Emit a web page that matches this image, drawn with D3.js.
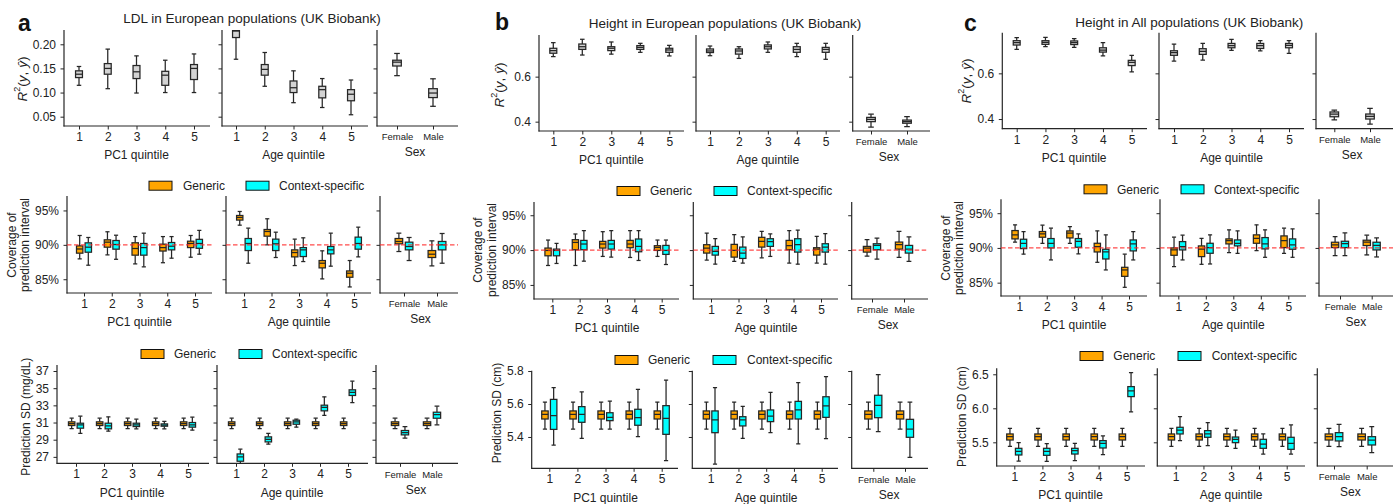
<!DOCTYPE html>
<html>
<head>
<meta charset="utf-8">
<script src="https://cdn.jsdelivr.net/npm/d3@7"></script>
<style>
  body { margin: 0; background: #fff; }
  svg { display: block; }
</style>
</head>
<body>
<svg id="fig" width="1393" height="504"></svg>
<script>
// ---------------------------------------------------------------
// Data. Every box is [lower whisker, Q1, median, Q3, upper whisker]
// ---------------------------------------------------------------
const quintiles = ["1", "2", "3", "4", "5"];
const sexes = ["Female", "Male"];
const seriesNames = ["Generic", "Context-specific"];

const r2TicksLdl = [0.05, 0.10, 0.15, 0.20];
const r2TicksHeight = [0.4, 0.6];
const coverageTicks = [85, 90, 95];
const sdTicksLdl = [27, 29, 31, 33, 35, 37];
const sdTicksHeightEur = [5.4, 5.6, 5.8];
const sdTicksHeightAll = [5.5, 6.0, 6.5];
const nominalCoverage = 90;

// LDL, European (a)
const ldlR2Pc1 = [
  [0.115, 0.131, 0.138, 0.145, 0.154],
  [0.108, 0.138, 0.150, 0.160, 0.190],
  [0.099, 0.129, 0.143, 0.156, 0.176],
  [0.100, 0.115, 0.136, 0.144, 0.167],
  [0.100, 0.127, 0.150, 0.158, 0.180]];
const ldlR2Age = [
  [0.169, 0.214, 0.2275, 0.2285, 0.250],
  [0.113, 0.136, 0.148, 0.158, 0.183],
  [0.079, 0.100, 0.110, 0.124, 0.145],
  [0.069, 0.089, 0.106, 0.113, 0.129],
  [0.054, 0.083, 0.0965, 0.106, 0.126]];
const ldlR2Sex = [
  [0.135, 0.155, 0.163, 0.167, 0.181],
  [0.0715, 0.0896, 0.099, 0.108, 0.1285]];

const ldlCovPc1Gen = [
  [87.96, 88.79, 89.40, 89.85, 91.36],
  [88.54, 89.66, 90.39, 90.73, 91.90],
  [87.23, 88.50, 89.47, 90.30, 91.20],
  [87.40, 89.10, 89.60, 90.10, 91.20],
  [88.20, 89.60, 90.20, 90.53, 91.36]];
const ldlCovPc1Ctx = [
  [87.04, 88.93, 89.66, 90.29, 91.07],
  [87.90, 89.37, 90.05, 90.63, 91.40],
  [86.80, 88.50, 89.60, 90.20, 91.70],
  [88.06, 89.27, 89.80, 90.34, 91.20],
  [88.64, 89.50, 90.20, 90.80, 92.10]];
const ldlCovAgeGen = [
  [92.86, 93.60, 93.98, 94.27, 94.85],
  [90.00, 91.26, 91.94, 92.23, 93.79],
  [86.99, 88.25, 88.88, 89.27, 90.83],
  [85.05, 86.65, 87.33, 87.72, 89.13],
  [83.88, 85.29, 85.87, 86.21, 87.72]];
const ldlCovAgeCtx = [
  [87.33, 89.17, 90.20, 90.92, 92.43],
  [88.16, 89.17, 90.15, 90.83, 91.84],
  [87.57, 88.30, 89.27, 89.60, 91.02],
  [86.90, 88.69, 89.27, 89.76, 91.70],
  [88.25, 89.37, 90.20, 91.12, 92.57]];
const ldlCovSexGen = [
  [89.03, 90.15, 90.49, 90.92, 91.70],
  [86.94, 88.16, 88.64, 89.17, 90.58]];
const ldlCovSexCtx = [
  [87.72, 89.27, 89.76, 90.39, 91.07],
  [87.33, 89.27, 90.00, 90.49, 91.65]];

const ldlSdPc1Gen = [
  [30.30, 30.65, 30.88, 31.08, 31.50],
  [30.30, 30.65, 30.88, 31.08, 31.50],
  [30.30, 30.65, 30.88, 31.08, 31.50],
  [30.30, 30.65, 30.88, 31.08, 31.50],
  [30.30, 30.65, 30.88, 31.08, 31.50]];
const ldlSdPc1Ctx = [
  [29.75, 30.34, 30.73, 30.92, 31.74],
  [29.99, 30.26, 30.60, 30.92, 31.66],
  [30.26, 30.53, 30.73, 30.92, 31.39],
  [30.26, 30.57, 30.69, 30.84, 31.12],
  [30.10, 30.46, 30.73, 31.00, 31.62]];
const ldlSdAgeGen = [
  [30.30, 30.65, 30.88, 31.08, 31.50],
  [30.30, 30.65, 30.88, 31.08, 31.50],
  [30.30, 30.65, 30.88, 31.08, 31.50],
  [30.30, 30.65, 30.88, 31.08, 31.50],
  [30.30, 30.65, 30.88, 31.08, 31.50]];
const ldlSdAgeCtx = [
  [26.00, 26.49, 27.00, 27.34, 27.89],
  [28.47, 28.74, 29.05, 29.33, 29.75],
  [30.46, 30.80, 31.08, 31.27, 31.39],
  [31.82, 32.36, 32.75, 33.02, 34.00],
  [33.33, 34.15, 34.50, 34.81, 35.82]];
const ldlSdSexGen = [
  [30.30, 30.65, 30.88, 31.08, 31.50],
  [30.30, 30.65, 30.88, 31.08, 31.50]];
const ldlSdSexCtx = [
  [29.17, 29.56, 29.83, 30.07, 30.53],
  [30.73, 31.50, 31.93, 32.20, 32.90]];

// Height, European (b)
const htEurR2Pc1 = [
  [0.689, 0.704, 0.7156, 0.726, 0.751],
  [0.696, 0.721, 0.733, 0.745, 0.766],
  [0.700, 0.7156, 0.726, 0.733, 0.754],
  [0.708, 0.721, 0.730, 0.738, 0.748],
  [0.692, 0.708, 0.7185, 0.726, 0.739]];
const htEurR2Age = [
  [0.693, 0.707, 0.714, 0.723, 0.736],
  [0.681, 0.700, 0.714, 0.723, 0.733],
  [0.708, 0.723, 0.733, 0.741, 0.754],
  [0.689, 0.708, 0.721, 0.733, 0.748],
  [0.677, 0.708, 0.721, 0.730, 0.748]];
const htEurR2Sex = [
  [0.376, 0.400, 0.410, 0.419, 0.433],
  [0.378, 0.393, 0.400, 0.407, 0.422]];

const htEurCovPc1Gen = [
  [87.79, 89.18, 89.95, 90.29, 91.44],
  [87.79, 90.05, 91.10, 91.49, 92.31],
  [89.09, 90.29, 90.87, 91.25, 92.64],
  [88.94, 90.34, 90.87, 91.39, 92.79],
  [89.09, 89.95, 90.38, 90.63, 91.44]];
const htEurCovPc1Ctx = [
  [88.08, 89.18, 89.95, 90.14, 90.96],
  [88.41, 90.05, 90.87, 91.39, 92.79],
  [88.99, 90.14, 90.87, 91.39, 92.79],
  [88.51, 89.76, 90.53, 91.59, 92.79],
  [87.93, 89.38, 89.95, 90.67, 91.44]];
const htEurCovAgeGen = [
  [88.56, 89.57, 90.29, 90.77, 92.45],
  [88.37, 88.99, 89.95, 90.82, 92.21],
  [88.89, 90.43, 91.25, 91.83, 92.69],
  [88.13, 90.05, 90.63, 91.39, 92.79],
  [88.13, 89.28, 90.14, 90.34, 91.97]];
const htEurCovAgeCtx = [
  [87.98, 89.28, 89.81, 90.53, 91.63],
  [88.13, 88.80, 89.57, 90.43, 91.88],
  [89.09, 90.53, 91.20, 91.63, 92.31],
  [87.98, 89.71, 90.77, 91.63, 92.88],
  [87.98, 89.71, 90.43, 90.91, 92.36]];
const htEurCovSexGen = [
  [89.13, 89.71, 90.29, 90.53, 91.49],
  [88.94, 90.14, 90.77, 91.15, 92.69]];
const htEurCovSexCtx = [
  [88.70, 90.05, 90.67, 90.91, 91.73],
  [88.37, 89.57, 90.14, 90.67, 91.88]];

const htEurSdPc1Gen = [
  [5.448, 5.509, 5.537, 5.558, 5.612],
  [5.448, 5.509, 5.537, 5.558, 5.612],
  [5.448, 5.509, 5.537, 5.558, 5.612],
  [5.448, 5.509, 5.537, 5.558, 5.612],
  [5.448, 5.509, 5.537, 5.558, 5.612]];
const htEurSdPc1Ctx = [
  [5.351, 5.446, 5.529, 5.628, 5.699],
  [5.392, 5.489, 5.537, 5.584, 5.673],
  [5.448, 5.499, 5.519, 5.547, 5.618],
  [5.402, 5.471, 5.517, 5.568, 5.689],
  [5.257, 5.416, 5.513, 5.590, 5.745]];
const htEurSdAgeGen = [
  [5.448, 5.509, 5.537, 5.558, 5.612],
  [5.448, 5.509, 5.537, 5.558, 5.612],
  [5.448, 5.509, 5.537, 5.558, 5.612],
  [5.448, 5.509, 5.537, 5.558, 5.612],
  [5.448, 5.509, 5.537, 5.558, 5.612]];
const htEurSdAgeCtx = [
  [5.236, 5.426, 5.503, 5.558, 5.700],
  [5.392, 5.467, 5.503, 5.523, 5.586],
  [5.426, 5.493, 5.527, 5.564, 5.671],
  [5.358, 5.509, 5.564, 5.616, 5.729],
  [5.390, 5.519, 5.588, 5.644, 5.766]];
const htEurSdSexGen = [
  [5.448, 5.509, 5.537, 5.558, 5.612],
  [5.448, 5.509, 5.537, 5.558, 5.612]];
const htEurSdSexCtx = [
  [5.432, 5.517, 5.592, 5.653, 5.778],
  [5.277, 5.398, 5.448, 5.507, 5.612]];

// Height, all ancestries (c)
const htAllR2Pc1 = [
  [0.705, 0.724, 0.734, 0.743, 0.756],
  [0.717, 0.727, 0.736, 0.743, 0.758],
  [0.714, 0.726, 0.734, 0.742, 0.752],
  [0.676, 0.693, 0.702, 0.712, 0.734],
  [0.606, 0.634, 0.648, 0.657, 0.679]];
const htAllR2Age = [
  [0.654, 0.679, 0.691, 0.699, 0.728],
  [0.658, 0.683, 0.696, 0.708, 0.731],
  [0.701, 0.712, 0.721, 0.731, 0.749],
  [0.698, 0.709, 0.721, 0.731, 0.743],
  [0.688, 0.712, 0.723, 0.731, 0.743]];
const htAllR2Sex = [
  [0.396, 0.410, 0.422, 0.431, 0.439],
  [0.378, 0.400, 0.412, 0.422, 0.447]];

const htAllCovPc1Gen = [
  [90.82, 91.30, 91.88, 92.50, 93.32],
  [90.67, 91.54, 92.02, 92.36, 93.27],
  [90.67, 91.44, 92.12, 92.45, 93.08],
  [87.93, 89.42, 90.19, 90.67, 92.45],
  [84.33, 85.91, 86.83, 87.21, 89.09]];
const htAllCovPc1Ctx = [
  [89.09, 89.90, 90.67, 91.25, 92.36],
  [88.27, 90.00, 90.67, 91.35, 92.84],
  [89.13, 90.10, 90.96, 91.35, 92.02],
  [86.83, 88.41, 89.42, 89.81, 91.88],
  [88.27, 89.57, 90.58, 91.15, 92.36]];
const htAllCovAgeGen = [
  [87.31, 88.94, 89.71, 90.00, 91.54],
  [87.64, 88.75, 89.81, 90.29, 91.39],
  [89.33, 90.58, 91.06, 91.30, 92.60],
  [89.62, 90.67, 91.39, 91.88, 93.32],
  [89.23, 90.05, 91.06, 91.73, 92.84]];
const htAllCovAgeCtx = [
  [88.27, 89.71, 90.19, 90.91, 91.83],
  [87.69, 89.23, 90.05, 90.67, 91.88],
  [89.23, 90.29, 90.67, 91.15, 92.45],
  [88.65, 89.86, 90.58, 91.49, 92.60],
  [88.65, 89.81, 90.43, 91.30, 92.74]];
const htAllCovSexGen = [
  [88.89, 90.05, 90.43, 90.82, 91.63],
  [88.99, 90.34, 90.82, 91.11, 91.83]];
const htAllCovSexCtx = [
  [88.89, 90.05, 90.63, 90.96, 92.16],
  [88.70, 89.71, 90.38, 90.82, 91.44]];

const htAllSdPc1Gen = [
  [5.441, 5.534, 5.583, 5.623, 5.706],
  [5.441, 5.534, 5.583, 5.623, 5.706],
  [5.441, 5.534, 5.583, 5.623, 5.706],
  [5.441, 5.534, 5.583, 5.623, 5.706],
  [5.441, 5.534, 5.583, 5.623, 5.706]];
const htAllSdPc1Ctx = [
  [5.225, 5.314, 5.368, 5.412, 5.495],
  [5.220, 5.309, 5.368, 5.412, 5.480],
  [5.230, 5.328, 5.377, 5.412, 5.485],
  [5.319, 5.417, 5.485, 5.525, 5.593],
  [5.946, 6.172, 6.255, 6.319, 6.525]];
const htAllSdAgeGen = [
  [5.441, 5.534, 5.583, 5.623, 5.706],
  [5.441, 5.534, 5.583, 5.623, 5.706],
  [5.441, 5.534, 5.583, 5.623, 5.706],
  [5.441, 5.534, 5.583, 5.623, 5.706],
  [5.441, 5.534, 5.583, 5.623, 5.706]];
const htAllSdAgeCtx = [
  [5.525, 5.623, 5.681, 5.721, 5.877],
  [5.451, 5.574, 5.623, 5.672, 5.789],
  [5.412, 5.495, 5.544, 5.578, 5.681],
  [5.328, 5.412, 5.475, 5.544, 5.623],
  [5.328, 5.397, 5.485, 5.574, 5.755]];
const htAllSdSexGen = [
  [5.441, 5.534, 5.583, 5.623, 5.706],
  [5.441, 5.534, 5.583, 5.623, 5.706]];
const htAllSdSexCtx = [
  [5.436, 5.520, 5.583, 5.642, 5.765],
  [5.348, 5.461, 5.534, 5.583, 5.730]];

// ---------------------------------------------------------------
// Styling
// ---------------------------------------------------------------
const FONT = "'Liberation Sans', Arial, Helvetica, sans-serif";
const INK = "#222";
const EDGE = "#262626";
const R2_FILL = "#d3d3d3";
const GEN_FILL = "#ffa500";
const CTX_FILL = "#00ffff";
const fmt2 = d3.format(".2f");
const fmt1 = d3.format(".1f");
const fmtPct = d => d + "%";
const fmtInt = d3.format("d");

const svg = d3.select("#fig").attr("font-family", FONT);
const defs = svg.append("defs");
let clipCount = 0;

function drawBox(g, cx, w, b, y, fill) {
  const [lo, q1, med, q3, hi] = b;
  const cw = w * 0.65;
  const line = (x1, y1, x2, y2) => g.append("line")
    .attr("x1", x1).attr("y1", y1).attr("x2", x2).attr("y2", y2)
    .attr("stroke", EDGE).attr("stroke-width", 1.25);
  line(cx, y(hi), cx, y(q3));
  line(cx, y(q1), cx, y(lo));
  line(cx - cw / 2, y(hi), cx + cw / 2, y(hi));
  line(cx - cw / 2, y(lo), cx + cw / 2, y(lo));
  g.append("rect")
    .attr("x", cx - w / 2).attr("y", y(q3))
    .attr("width", w).attr("height", Math.max(0.5, y(q1) - y(q3)))
    .attr("fill", fill).attr("stroke", EDGE).attr("stroke-width", 1.25);
  line(cx - w / 2, y(med), cx + w / 2, y(med));
}

// one boxplot axes: category axis along x, value axis along y
function boxAxes(row, sp, cats, series, xlabel, isSex) {
  const n = cats.length;
  const step = (sp.t1 - sp.t0) / (n - 1);
  const x = d3.scalePoint().domain(cats).range([sp.t0, sp.t1]);
  const y = d3.scaleLinear().domain(row.dom).range([row.bottom, row.top]);
  const g = svg.append("g");

  const id = "axclip" + (clipCount++);
  defs.append("clipPath").attr("id", id).append("rect")
    .attr("x", sp.L).attr("y", row.top)
    .attr("width", sp.R - sp.L).attr("height", row.bottom - row.top);

  // value axis
  const ya = g.append("g").attr("transform", `translate(${sp.L},0)`)
    .call(d3.axisLeft(y).tickValues(row.ticks).tickSize(3.5).tickPadding(4.5)
      .tickFormat(sp.labels ? row.fmt : () => ""));
  ya.select(".domain").remove();
  ya.attr("font-family", FONT).attr("font-size", 12);
  ya.selectAll("line").attr("stroke", EDGE);
  ya.selectAll("text").attr("fill", INK);

  // category axis
  const xa = g.append("g").attr("transform", `translate(0,${row.bottom})`)
    .call(d3.axisBottom(x).tickSize(3.5).tickPadding(isSex ? 4 : 3));
  xa.select(".domain").remove();
  xa.attr("font-family", FONT).attr("font-size", isSex ? 9.5 : 12);
  xa.selectAll("line").attr("stroke", EDGE);
  xa.selectAll("text").attr("fill", INK);

  // spines
  g.append("line").attr("x1", sp.L).attr("x2", sp.L)
    .attr("y1", row.top).attr("y2", row.bottom + 0.5)
    .attr("stroke", EDGE).attr("stroke-width", 1.2);
  g.append("line").attr("x1", sp.L - 0.5).attr("x2", sp.R)
    .attr("y1", row.bottom).attr("y2", row.bottom)
    .attr("stroke", EDGE).attr("stroke-width", 1.2);

  // boxes
  const plot = g.append("g").attr("clip-path", `url(#${id})`);
  const two = series.length > 1;
  const w = step * (two ? 0.23 : 0.24);
  const offs = two ? [-0.155 * step, 0.155 * step] : [0];
  series.forEach((s, si) => {
    s.data.forEach((b, i) => drawBox(plot, x(cats[i]) + offs[si], w, b, y, s.fill));
  });

  // nominal coverage reference
  if (row.refLine) {
    plot.append("line").attr("x1", sp.L).attr("x2", sp.R)
      .attr("y1", y(nominalCoverage)).attr("y2", y(nominalCoverage))
      .attr("stroke", "#ff2a2a").attr("stroke-opacity", 0.85)
      .attr("stroke-width", 1.3).attr("stroke-dasharray", "4.5,2.5");
  }

  // axis title
  g.append("text")
    .attr("x", (sp.t0 + sp.t1) / 2)
    .attr("y", row.bottom + (isSex ? 26 : 29) + 4.3)
    .attr("text-anchor", "middle").attr("font-size", 12).attr("fill", INK)
    .text(xlabel);
}

function rotatedLabel(x, y, text, size) {
  return svg.append("text")
    .attr("transform", `translate(${x},${y}) rotate(-90)`)
    .attr("text-anchor", "middle").attr("dominant-baseline", "central")
    .attr("font-size", size).attr("fill", INK).text(text);
}

function r2Label(x, y) {
  const t = svg.append("text")
    .attr("transform", `translate(${x},${y}) rotate(-90)`)
    .attr("text-anchor", "middle").attr("dominant-baseline", "central")
    .attr("font-size", 13.5).attr("fill", INK);
  t.append("tspan").attr("font-style", "italic").text("R");
  t.append("tspan").attr("font-size", 9).attr("dy", -5).text("2");
  t.append("tspan").attr("dy", 5).text("(");
  t.append("tspan").attr("font-style", "italic").text("y");
  t.append("tspan").text(", ");
  t.append("tspan").attr("font-style", "italic").text("\u0177");
  t.append("tspan").text(")");
}

function legend(lg) {
  const items = [
    { name: seriesNames[0], fill: GEN_FILL, px: lg.gx, tx: lg.gtx },
    { name: seriesNames[1], fill: CTX_FILL, px: lg.cx, tx: lg.ctx }];
  items.forEach(it => {
    svg.append("rect").attr("x", it.px).attr("y", lg.y - 4.5)
      .attr("width", 23).attr("height", 9)
      .attr("fill", it.fill).attr("stroke", "#111").attr("stroke-width", 1);
    svg.append("text").attr("x", it.tx).attr("y", lg.y + 4.2)
      .attr("font-size", 12).attr("fill", INK).text(it.name);
  });
}

// ---------------------------------------------------------------
// Layout of the three panels
// ---------------------------------------------------------------
const panels = [
  {
    letter: "a", letterPos: [18, 30.5],
    title: "LDL in European populations (UK Biobank)", titlePos: [252, 22.7],
    rows: [
      { top: 30, bottom: 126, dom: [0.0307, 0.2296], ticks: r2TicksLdl, fmt: fmt2,
        ylab: { kind: "r2", x: 22, y: 79 },
        sps: [{ L: 64, R: 210, t0: 79, t1: 194, labels: true },
              { L: 222, R: 368, t0: 236, t1: 351 },
              { L: 377, R: 458, t0: 397, t1: 433 }],
        series: [[{ data: ldlR2Pc1, fill: R2_FILL }], [{ data: ldlR2Age, fill: R2_FILL }], [{ data: ldlR2Sex, fill: R2_FILL }]] },
      { top: 196, bottom: 293, dom: [83.0, 97.1], ticks: coverageTicks, fmt: fmtPct, refLine: true,
        ylab: { kind: "two", x1: 12, x2: 25, y: 245 },
        legend: { y: 185.7, gx: 149, gtx: 183, cx: 246, ctx: 279 },
        sps: [{ L: 67, R: 212, t0: 84, t1: 195, labels: true },
              { L: 226, R: 371, t0: 244, t1: 354 },
              { L: 380, R: 458, t0: 404, t1: 437 }],
        series: [[{ data: ldlCovPc1Gen, fill: GEN_FILL }, { data: ldlCovPc1Ctx, fill: CTX_FILL }],
                 [{ data: ldlCovAgeGen, fill: GEN_FILL }, { data: ldlCovAgeCtx, fill: CTX_FILL }],
                 [{ data: ldlCovSexGen, fill: GEN_FILL }, { data: ldlCovSexCtx, fill: CTX_FILL }]] },
      { top: 365, bottom: 463.3, dom: [26.25, 37.7], ticks: sdTicksLdl, fmt: fmtInt,
        ylab: { kind: "one", text: "Prediction SD (mg/dL)", x: 26, y: 416.7 },
        legend: { y: 354, gx: 141, gtx: 174, cx: 239, ctx: 272 },
        sps: [{ L: 57, R: 209, t0: 76, t1: 188, labels: true },
              { L: 217, R: 368, t0: 236, t1: 348 },
              { L: 376, R: 458, t0: 400, t1: 432 }],
        series: [[{ data: ldlSdPc1Gen, fill: GEN_FILL }, { data: ldlSdPc1Ctx, fill: CTX_FILL }],
                 [{ data: ldlSdAgeGen, fill: GEN_FILL }, { data: ldlSdAgeCtx, fill: CTX_FILL }],
                 [{ data: ldlSdSexGen, fill: GEN_FILL }, { data: ldlSdSexCtx, fill: CTX_FILL }]] }
    ]
  },
  {
    letter: "b", letterPos: [495, 30],
    title: "Height in European populations (UK Biobank)", titlePos: [725, 28.3],
    rows: [
      { top: 35, bottom: 131, dom: [0.3585, 0.785], ticks: r2TicksHeight, fmt: fmt1,
        ylab: { kind: "r2", x: 499, y: 85 },
        sps: [{ L: 539, R: 684, t0: 553.3, t1: 669.3, labels: true },
              { L: 696, R: 840, t0: 710, t1: 825.7 },
              { L: 852.7, R: 930, t0: 871, t1: 907 }],
        series: [[{ data: htEurR2Pc1, fill: R2_FILL }], [{ data: htEurR2Age, fill: R2_FILL }], [{ data: htEurR2Sex, fill: R2_FILL }]] },
      { top: 202, bottom: 299, dom: [82.98, 96.9], ticks: coverageTicks, fmt: fmtPct, refLine: true,
        ylab: { kind: "two", x1: 478, x2: 492, y: 250 },
        legend: { y: 191, gx: 617, gtx: 650, cx: 714, ctx: 747 },
        sps: [{ L: 534, R: 679, t0: 552.3, t1: 661.7, labels: true },
              { L: 693.3, R: 838, t0: 711, t1: 821 },
              { L: 851.7, R: 928, t0: 872, t1: 904 }],
        series: [[{ data: htEurCovPc1Gen, fill: GEN_FILL }, { data: htEurCovPc1Ctx, fill: CTX_FILL }],
                 [{ data: htEurCovAgeGen, fill: GEN_FILL }, { data: htEurCovAgeCtx, fill: CTX_FILL }],
                 [{ data: htEurCovSexGen, fill: GEN_FILL }, { data: htEurCovSexCtx, fill: CTX_FILL }]] },
      { top: 370.7, bottom: 468.3, dom: [5.21, 5.802], ticks: sdTicksHeightEur, fmt: fmt1,
        ylab: { kind: "one", text: "Prediction SD (cm)", x: 497, y: 413 },
        legend: { y: 360, gx: 615, gtx: 648, cx: 713, ctx: 747 },
        sps: [{ L: 531.7, R: 678, t0: 549.3, t1: 661.7, labels: true },
              { L: 692.3, R: 838, t0: 710.7, t1: 821.7 },
              { L: 851.7, R: 928, t0: 873.3, t1: 905 }],
        series: [[{ data: htEurSdPc1Gen, fill: GEN_FILL }, { data: htEurSdPc1Ctx, fill: CTX_FILL }],
                 [{ data: htEurSdAgeGen, fill: GEN_FILL }, { data: htEurSdAgeCtx, fill: CTX_FILL }],
                 [{ data: htEurSdSexGen, fill: GEN_FILL }, { data: htEurSdSexCtx, fill: CTX_FILL }]] }
    ]
  },
  {
    letter: "c", letterPos: [964, 30.7],
    title: "Height in All populations (UK Biobank)", titlePos: [1189.3, 26.7],
    rows: [
      { top: 32.7, bottom: 128.7, dom: [0.3577, 0.778], ticks: r2TicksHeight, fmt: fmt1,
        ylab: { kind: "r2", x: 966, y: 81 },
        sps: [{ L: 1002.3, R: 1147, t0: 1016.7, t1: 1131.7, labels: true },
              { L: 1159, R: 1304, t0: 1174, t1: 1289 },
              { L: 1316, R: 1393, t0: 1334.3, t1: 1370 }],
        series: [[{ data: htAllR2Pc1, fill: R2_FILL }], [{ data: htAllR2Age, fill: R2_FILL }], [{ data: htAllR2Sex, fill: R2_FILL }]] },
      { top: 199.3, bottom: 296, dom: [83.08, 97.0], ticks: coverageTicks, fmt: fmtPct, refLine: true,
        ylab: { kind: "two", x1: 946, x2: 959.3, y: 248 },
        legend: { y: 189.3, gx: 1084, gtx: 1117, cx: 1181, ctx: 1214 },
        sps: [{ L: 1001, R: 1147, t0: 1019.3, t1: 1129, labels: true },
              { L: 1160, R: 1306, t0: 1178.3, t1: 1288.3 },
              { L: 1319, R: 1393, t0: 1340, t1: 1371.7 }],
        series: [[{ data: htAllCovPc1Gen, fill: GEN_FILL }, { data: htAllCovPc1Ctx, fill: CTX_FILL }],
                 [{ data: htAllCovAgeGen, fill: GEN_FILL }, { data: htAllCovAgeCtx, fill: CTX_FILL }],
                 [{ data: htAllCovSexGen, fill: GEN_FILL }, { data: htAllCovSexCtx, fill: CTX_FILL }]] },
      { top: 368.3, bottom: 466, dom: [5.152, 6.588], ticks: sdTicksHeightAll, fmt: fmt1,
        ylab: { kind: "one", text: "Prediction SD (cm)", x: 962, y: 416.7 },
        legend: { y: 356, gx: 1080, gtx: 1113.3, cx: 1178, ctx: 1211.7 },
        sps: [{ L: 996.7, R: 1145, t0: 1014.3, t1: 1126.7, labels: true },
              { L: 1157.3, R: 1305, t0: 1175.7, t1: 1286.7 },
              { L: 1317.3, R: 1393, t0: 1334, t1: 1366.7 }],
        series: [[{ data: htAllSdPc1Gen, fill: GEN_FILL }, { data: htAllSdPc1Ctx, fill: CTX_FILL }],
                 [{ data: htAllSdAgeGen, fill: GEN_FILL }, { data: htAllSdAgeCtx, fill: CTX_FILL }],
                 [{ data: htAllSdSexGen, fill: GEN_FILL }, { data: htAllSdSexCtx, fill: CTX_FILL }]] }
    ]
  }
];

const axisCats = [quintiles, quintiles, sexes];
const axisTitles = ["PC1 quintile", "Age quintile", "Sex"];

panels.forEach(p => {
  svg.append("text").attr("x", p.letterPos[0]).attr("y", p.letterPos[1])
    .attr("font-size", 23).attr("font-weight", "bold").attr("fill", "#111").text(p.letter);
  svg.append("text").attr("x", p.titlePos[0]).attr("y", p.titlePos[1])
    .attr("text-anchor", "middle").attr("font-size", 13.5).attr("fill", INK).text(p.title);

  p.rows.forEach(row => {
    row.sps.forEach((sp, k) => boxAxes(row, sp, axisCats[k], row.series[k], axisTitles[k], k === 2));
    if (row.legend) legend(row.legend);
    const yl = row.ylab;
    if (yl.kind === "r2") r2Label(yl.x, yl.y);
    else if (yl.kind === "two") {
      rotatedLabel(yl.x1, yl.y, "Coverage of", 12);
      rotatedLabel(yl.x2, yl.y, "prediction interval", 12);
    } else rotatedLabel(yl.x, yl.y, yl.text, 12);
  });
});
</script>
</body>
</html>
